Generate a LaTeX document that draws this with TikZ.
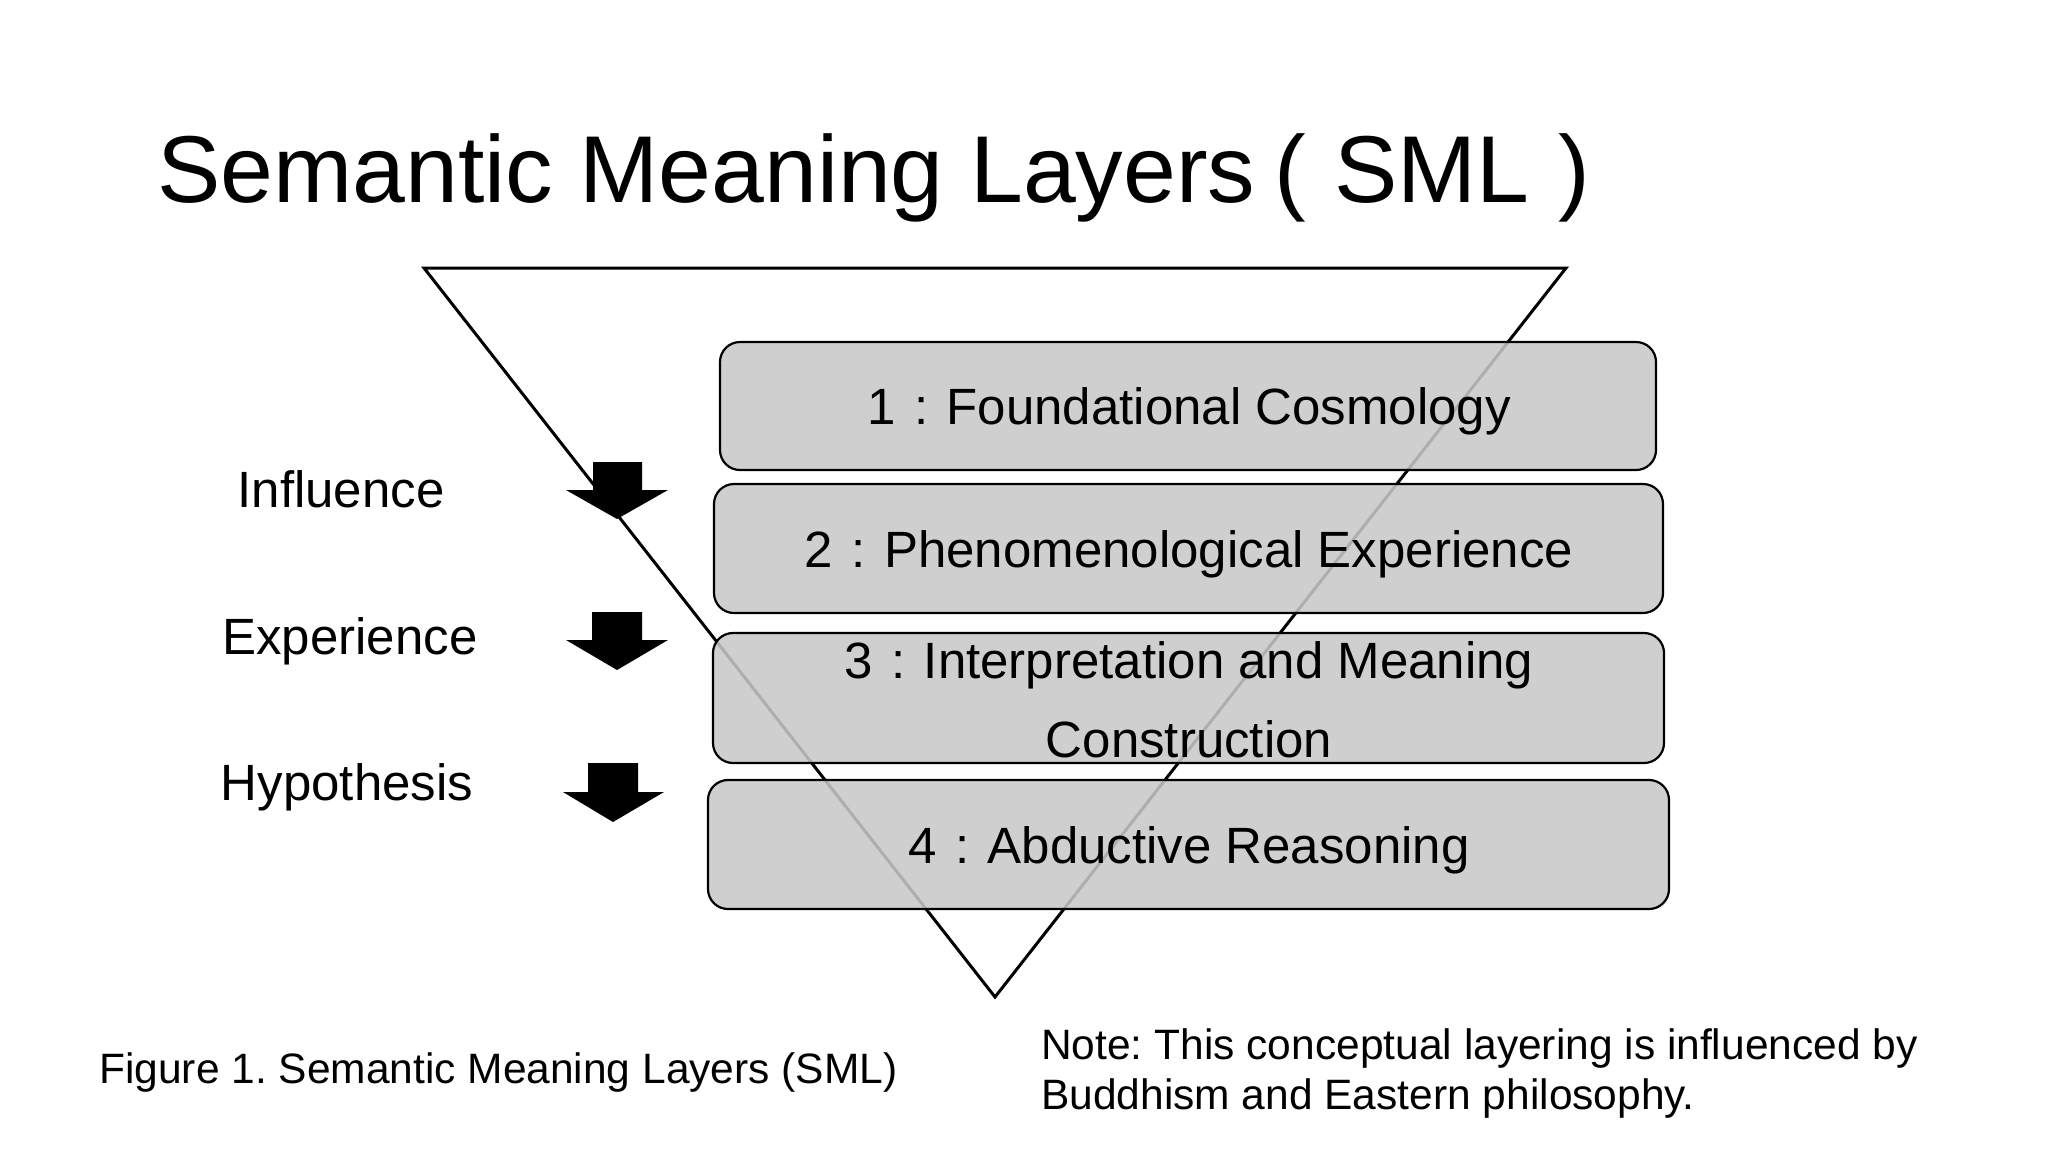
\documentclass[tikz,border=0pt]{standalone}
\usepackage{fontspec}
\setmainfont{Liberation Sans}
\newcommand{\fcolon}{\makebox[1em]{:}}
\definecolor{boxgray}{RGB}{200,200,200}
\frenchspacing
\begin{document}
\frenchspacing
\begin{tikzpicture}[x=1pt,y=-1pt,
  layerbox/.style={draw=black, line width=2.2pt, rounded corners=20pt, fill=boxgray, fill opacity=0.87, draw opacity=1, inner sep=0pt},
  boxtext/.style={anchor=base, inner sep=0pt, font=\fontsize{51}{61}\selectfont},
  sidetext/.style={anchor=base, inner sep=0pt, font=\fontsize{51}{61}\selectfont},
  smalltext/.style={anchor=base west, inner sep=0pt, font=\fontsize{42.5}{50}\selectfont},
  downarrow/.style={fill=black}]
\useasboundingbox[fill=white] (0,0) rectangle (2048,1152);

% title
\node[anchor=base west, inner sep=0pt, font=\fontsize{95}{100}\selectfont] (title) at (157,202) {Semantic Meaning Layers\hspace{0.2em}(\hspace{0.3em}SML\hspace{0.3em})};

% inverted triangle
\coordinate (tl) at (424,268);
\coordinate (tr) at (1566,268);
\coordinate (tb) at (995,997);
\draw[line width=3pt, line join=miter] (tl) -- (tr) -- (tb) -- cycle;

% layer boxes
\node[layerbox, minimum width=936pt, minimum height=128pt] (b1) at (1188,406) {};
\node[layerbox, minimum width=949pt, minimum height=129pt] (b2) at (1188.5,548.5) {};
\node[layerbox, minimum width=951pt, minimum height=130pt] (b3) at (1188.5,698) {};
\node[layerbox, minimum width=961pt, minimum height=129pt] (b4) at (1188.5,844.5) {};

% box texts
\node[boxtext] (t1) at (1189,424) {1\fcolon Foundational Cosmology};
\node[boxtext] (t2) at (1189,567) {2\fcolon Phenomenological Experience};
\node[boxtext] (t3a) at (1189,678) {3\fcolon Interpretation and Meaning};
\node[boxtext] (t3b) at (1189,757) {Construction};
\node[boxtext] (t4) at (1189,863) {4\fcolon Abductive Reasoning};

% arrows
\fill[downarrow] (593,462) -- (642,462) -- (642,490) -- (668,490) -- (617,519) -- (566,490) -- (593,490) -- cycle;
\fill[downarrow] (592,612) -- (642,612) -- (642,640) -- (668,640) -- (617,670) -- (566,640) -- (592,640) -- cycle;
\fill[downarrow] (588,763) -- (638,763) -- (638,792) -- (664,792) -- (613,822) -- (563,792) -- (588,792) -- cycle;

% side labels
\node[sidetext] (l1) at (341,507) {Influence};
\node[sidetext] (l2) at (350,654) {Experience};
\node[sidetext] (l3) at (347,800) {Hypothesis};

% caption and note
\node[smalltext] (cap) at (99,1083) {Figure 1. Semantic Meaning Layers (SML)};
\node[smalltext] (note1) at (1041,1059) {Note: This conceptual layering is influenced by};
\node[smalltext] (note2) at (1041,1109) {Buddhism and Eastern philosophy.};
\end{tikzpicture}
\end{document}
